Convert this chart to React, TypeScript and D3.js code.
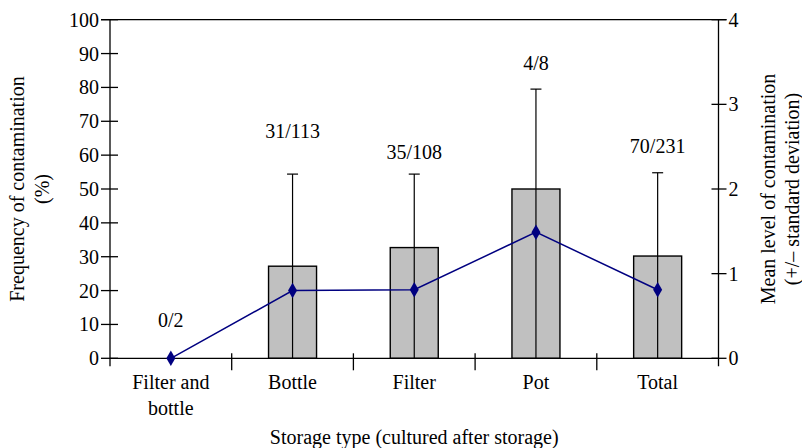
import React from "react";
import * as d3 from "d3";

const categories: string[][] = [["Filter and", "bottle"], ["Bottle"], ["Filter"], ["Pot"], ["Total"]];
const frequency: (number | null)[] = [null, 27.2, 32.7, 50, 30.2];
const errorTop: (number | null)[] = [null, 54.4, 54.4, 79.5, 54.8];
const meanLevel: number[] = [0, 0.8, 0.81, 1.49, 0.81];
const countLabels: string[] = ["0/2", "31/113", "35/108", "4/8", "70/231"];
const countLabelY: number[] = [9.2, 65.2, 58.8, 85.0, 60.5];
const leftTicks: number[] = [0, 10, 20, 30, 40, 50, 60, 70, 80, 90, 100];
const rightTicks: number[] = [0, 1, 2, 3, 4];

const W = 802;
const H = 448;
const left = 110;
const right = 718.5;
const top = 19.7;
const bottom = 358.3;
const font = "\"Liberation Serif\", Tinos, \"Times New Roman\", \"DejaVu Serif\", serif";
const fs = 20;

export default function App() {
  const x = d3.scaleBand<number>().domain(categories.map((_, i) => i)).range([left, right]).paddingInner(0).paddingOuter(0);
  const yL = d3.scaleLinear().domain([0, 100]).range([bottom, top]);
  const yR = d3.scaleLinear().domain([0, 4]).range([bottom, top]);
  const bw = 48;
  const cx = (i: number) => (x(i) as number) + x.bandwidth() / 2;
  const line = d3.line<number>().x((_, i) => cx(i)).y((d) => yR(d));
  const boundaries = d3.range(categories.length + 1).map((i) => left + i * x.bandwidth());

  return (
    <svg width={W} height={H} style={{ position: "absolute", left: 0, top: 0 }}>
      {/* bars */}
      {frequency.map((v, i) =>
        v == null ? null : (
          <rect key={"b" + i} x={cx(i) - bw / 2} y={yL(v)} width={bw} height={bottom - yL(v)} fill="#c0c0c0" stroke="#000" strokeWidth={1.4} />
        )
      )}
      {/* error bars */}
      {errorTop.map((v, i) =>
        v == null ? null : (
          <g key={"e" + i} stroke="#000" strokeWidth={1.2}>
            <line x1={cx(i)} x2={cx(i)} y1={yL(0)} y2={yL(v)} />
            <line x1={cx(i) - 5.5} x2={cx(i) + 5.5} y1={yL(v)} y2={yL(v)} />
          </g>
        )
      )}
      {/* axes frame */}
      <g stroke="#000" strokeWidth={1.3}>
        <line x1={left - 9} x2={right + 8} y1={top} y2={top} />
        <line x1={left} x2={right} y1={bottom} y2={bottom} />
        <line x1={left} x2={left} y1={top} y2={bottom + 8} />
        <line x1={right} x2={right} y1={top} y2={bottom + 8} />
        {leftTicks.map((t) => (
          <line key={"lt" + t} x1={left - 9} x2={left + 8} y1={yL(t)} y2={yL(t)} />
        ))}
        {rightTicks.map((t) => (
          <line key={"rt" + t} x1={right - 7} x2={right + 8} y1={yR(t)} y2={yR(t)} />
        ))}
        {boundaries.slice(1, -1).map((b, i) => (
          <line key={"xt" + i} x1={b} x2={b} y1={bottom - 5} y2={bottom + 12} />
        ))}
      </g>
      {/* line series */}
      <path d={line(meanLevel) || ""} fill="none" stroke="#000080" strokeWidth={1.5} />
      {meanLevel.map((v, i) => (
        <path key={"m" + i} d={d3.symbol(d3.symbolDiamond, 70)() || ""} transform={`translate(${cx(i)},${yR(v)})`} fill="#000080" />
      ))}
      {/* tick labels */}
      <g style={{ fontFamily: font, fontSize: fs }} fill="#000">
        {leftTicks.map((t) => (
          <text key={"ll" + t} x={left - 11} y={yL(t)} dy="0.35em" textAnchor="end">{t}</text>
        ))}
        {rightTicks.map((t) => (
          <text key={"rl" + t} x={right + 10} y={yR(t)} dy="0.35em" textAnchor="start">{t}</text>
        ))}
        {categories.map((lines, i) => (
          <text key={"c" + i} x={cx(i)} textAnchor="middle">
            {lines.map((l, j) => (
              <tspan key={j} x={cx(i)} y={388.5 + j * 26.5}>{l}</tspan>
            ))}
          </text>
        ))}
        {countLabels.map((l, i) => (
          <text key={"cl" + i} x={cx(i)} y={yL(countLabelY[i])} textAnchor="middle">{l}</text>
        ))}
        <text x={(left + right) / 2} y={444} textAnchor="middle">Storage type (cultured after storage)</text>
        <text transform={`translate(24,${(top + bottom) / 2}) rotate(-90)`} textAnchor="middle">Frequency of contamination</text>
        <text transform={`translate(49,${(top + bottom) / 2}) rotate(-90)`} textAnchor="middle">(%)</text>
        <text transform={`translate(775,${(top + bottom) / 2}) rotate(-90)`} textAnchor="middle">Mean level of contamination</text>
        <text transform={`translate(799,${(top + bottom) / 2}) rotate(-90)`} textAnchor="middle">(+/– standard deviation)</text>
      </g>
    </svg>
  );
}
